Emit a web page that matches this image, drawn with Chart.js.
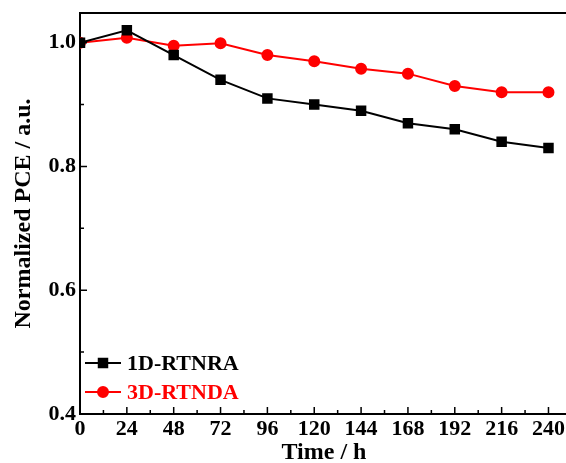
<!DOCTYPE html>
<html lang="en">
<head>
    <meta charset="UTF-8">
    <title>Normalized PCE</title>
    <script src="https://cdn.jsdelivr.net/npm/chart.js"></script>
    <style>
        html, body {
            margin: 0;
            padding: 0;
            background: #fff;
            overflow: hidden;
        }
        #wrap {
            width: 568px;
            height: 463px;
        }
    </style>
</head>
<body>
    <div id="wrap"><canvas id="pceChart" width="568" height="463"></canvas></div>

    <script>
        // Data
        var hours = [0, 24, 48, 72, 96, 120, 144, 168, 192, 216, 240];
        var pce1D = [1.0, 1.02, 0.98, 0.94, 0.91, 0.90, 0.89, 0.87, 0.86, 0.84, 0.83];
        var pce3D = [1.0, 1.008, 0.995, 0.999, 0.98, 0.97, 0.958, 0.95, 0.93, 0.92, 0.92];
        var seriesNames = ['1D-RTNRA', '3D-RTNDA'];

        // Axis ticks
        var xMajorTicks = [0, 24, 48, 72, 96, 120, 144, 168, 192, 216, 240];
        var xMinorTicks = [12, 36, 60, 84, 108, 132, 156, 180, 204, 228];
        var yMajorTicks = [0.4, 0.6, 0.8, 1.0];
        var yMinorTicks = [0.5, 0.7, 0.9];

        var serif = "'Liberation Serif', 'Times New Roman', serif";

        function toPoints(xs, ys) {
            return xs.map(function (x, i) { return { x: x, y: ys[i] }; });
        }

        // Top frame line + inward ticks (right edge is cropped off in the figure)
        var framePlugin = {
            id: 'frame',
            afterDraw: function (chart) {
                var ctx = chart.ctx;
                var a = chart.chartArea;
                var xs = chart.scales.x, ys = chart.scales.y;
                ctx.save();
                ctx.strokeStyle = '#000';
                ctx.lineWidth = 2;
                ctx.beginPath();
                ctx.moveTo(a.left, a.top); ctx.lineTo(chart.width, a.top);
                ctx.stroke();
                ctx.lineWidth = 1.5;
                ctx.beginPath();
                xMajorTicks.forEach(function (v) {
                    var px = xs.getPixelForValue(v);
                    ctx.moveTo(px, a.bottom); ctx.lineTo(px, a.bottom - 7);
                });
                xMinorTicks.forEach(function (v) {
                    var px = xs.getPixelForValue(v);
                    ctx.moveTo(px, a.bottom); ctx.lineTo(px, a.bottom - 4);
                });
                yMajorTicks.forEach(function (v) {
                    var py = ys.getPixelForValue(v);
                    ctx.moveTo(a.left, py); ctx.lineTo(a.left + 7, py);
                });
                yMinorTicks.forEach(function (v) {
                    var py = ys.getPixelForValue(v);
                    ctx.moveTo(a.left, py); ctx.lineTo(a.left + 4, py);
                });
                ctx.stroke();
                ctx.restore();
            }
        };

        // Legend in the lower left corner: line with marker, then label
        var legendPlugin = {
            id: 'cornerLegend',
            afterDraw: function (chart) {
                var ctx = chart.ctx;
                var a = chart.chartArea;
                ctx.save();
                ctx.font = 'bold 22px ' + serif;
                ctx.textBaseline = 'middle';
                chart.data.datasets.forEach(function (ds, i) {
                    var y = a.bottom - 51 + i * 29;
                    var x0 = a.left + 5;
                    ctx.strokeStyle = ds.borderColor;
                    ctx.fillStyle = ds.borderColor;
                    ctx.lineWidth = 2;
                    ctx.beginPath();
                    ctx.moveTo(x0, y); ctx.lineTo(x0 + 36, y);
                    ctx.stroke();
                    Chart.helpers.drawPoint(ctx, {
                        pointStyle: ds.pointStyle,
                        radius: ds.pointRadius,
                        borderWidth: 1
                    }, x0 + 18, y);
                    ctx.fillText(ds.label, x0 + 42, y + 1);
                });
                ctx.restore();
            }
        };

        var ctx = document.getElementById('pceChart').getContext('2d');
        var chart = new Chart(ctx, {
            type: 'line',
            data: {
                datasets: [{
                    label: seriesNames[0],
                    data: toPoints(hours, pce1D),
                    borderColor: '#000000',
                    backgroundColor: '#000000',
                    pointStyle: 'rect',
                    pointRadius: 6,
                    borderWidth: 2
                }, {
                    label: seriesNames[1],
                    data: toPoints(hours, pce3D),
                    borderColor: '#ff0000',
                    backgroundColor: '#ff0000',
                    pointStyle: 'circle',
                    pointRadius: 5,
                    borderWidth: 2
                }]
            },
            options: {
                responsive: false,
                animation: false,
                layout: { autoPadding: false, padding: { top: 13, left: 0, right: 0, bottom: 0 } },
                scales: {
                    x: {
                        type: 'linear',
                        min: 0,
                        max: 250,
                        afterBuildTicks: function (scale) {
                            scale.ticks = xMajorTicks.map(function (v) { return { value: v }; });
                        },
                        afterFit: function (scale) {
                            scale.height = 49;
                            scale.paddingLeft = 0;
                            scale.paddingRight = 0;
                        },
                        grid: { display: false, drawTicks: false },
                        border: { display: true, color: '#000', width: 2 },
                        ticks: {
                            color: '#000',
                            padding: 2,
                            maxRotation: 0,
                            autoSkip: false,
                            font: { family: serif, size: 22, weight: 'bold' }
                        },
                        title: {
                            display: true,
                            text: 'Time / h',
                            color: '#000',
                            padding: { top: 0, bottom: -2 },
                            font: { family: serif, size: 24, weight: 'bold', lineHeight: 1 }
                        }
                    },
                    y: {
                        min: 0.4,
                        max: 1.048,
                        afterBuildTicks: function (scale) {
                            scale.ticks = yMajorTicks.map(function (v) { return { value: v }; });
                        },
                        afterFit: function (scale) {
                            scale.width = 80;
                            scale.paddingTop = 0;
                            scale.paddingBottom = 0;
                        },
                        grid: { display: false, drawTicks: false },
                        border: { display: true, color: '#000', width: 2 },
                        ticks: {
                            color: '#000',
                            padding: 4,
                            autoSkip: false,
                            font: { family: serif, size: 22, weight: 'bold' },
                            callback: function (v) { return v.toFixed(1); }
                        },
                        title: {
                            display: true,
                            text: 'Normalized PCE / a.u.',
                            color: '#000',
                            padding: { top: 12, bottom: 0 },
                            font: { family: serif, size: 24, weight: 'bold', lineHeight: 1 }
                        }
                    }
                },
                plugins: {
                    legend: { display: false },
                    tooltip: { enabled: false }
                }
            },
            plugins: [framePlugin, legendPlugin]
        });
    </script>
</body>
</html>
